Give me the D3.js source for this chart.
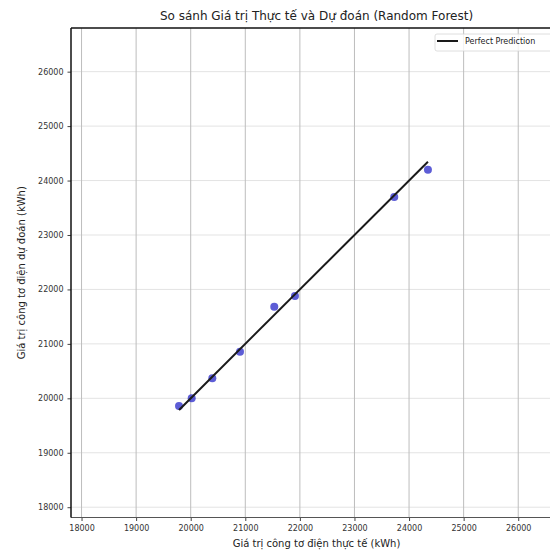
<!DOCTYPE html>
<html lang="vi">
<head>
<meta charset="utf-8">
<title>Random Forest - Thực tế vs Dự đoán</title>
<script src="https://cdn.jsdelivr.net/npm/d3@7"></script>
<style>
  body { margin: 0; background: #fff; }
  text { font-family: "DejaVu Sans", sans-serif; }
</style>
</head>
<body>
<script>
// values
var actual    = [19786, 20018, 20396, 20903, 21531, 21910, 23729, 24346];
var predicted = [19859, 20000, 20368, 20857, 21684, 21880, 23700, 24197];
var xTicks = [18000, 19000, 20000, 21000, 22000, 23000, 24000, 25000, 26000];
var yTicks = [18000, 19000, 20000, 21000, 22000, 23000, 24000, 25000, 26000];
var xDomain = [17807, 26802];
var yDomain = [17811, 26802];

var w = 550, h = 552;
// note: "top" is taken by window.top, so use mLeft / mTop
var mLeft = 71, mTop = 28, pw = 491, ph = 489.5;

var svg = d3.select("body").append("svg")
    .attr("width", w)
    .attr("height", h);

var x = d3.scaleLinear().domain(xDomain).range([mLeft, mLeft + pw]);
var y = d3.scaleLinear().domain(yDomain).range([mTop + ph, mTop]);

// grid
svg.append("g").selectAll("line")
    .data(yTicks).enter().append("line")
    .attr("x1", mLeft).attr("x2", mLeft + pw)
    .attr("y1", function(d) { return y(d); })
    .attr("y2", function(d) { return y(d); })
    .attr("stroke", "#e3e3e3").attr("stroke-width", 1);

svg.append("g").selectAll("line")
    .data(xTicks).enter().append("line")
    .attr("y1", mTop).attr("y2", mTop + ph)
    .attr("x1", function(d) { return x(d); })
    .attr("x2", function(d) { return x(d); })
    .attr("stroke", "#bdbdbd").attr("stroke-width", 1);

// axes
var xAxis = svg.append("g")
    .attr("transform", "translate(0," + (mTop + ph) + ")")
    .call(d3.axisBottom(x).tickValues(xTicks).tickFormat(d3.format("d")).tickSize(3.5).tickPadding(4));
var yAxis = svg.append("g")
    .attr("transform", "translate(" + mLeft + ",0)")
    .call(d3.axisLeft(y).tickValues(yTicks).tickFormat(d3.format("d")).tickSize(3.5).tickPadding(4));

[xAxis, yAxis].forEach(function(a) {
    a.select(".domain").remove();
    a.selectAll("text").attr("font-size", 8).attr("fill", "#333")
        .style("font-family", "'DejaVu Sans', sans-serif");
    a.selectAll(".tick line").attr("stroke", "#444");
});

// spines
svg.append("line").attr("x1", mLeft).attr("x2", mLeft + pw)
    .attr("y1", mTop + ph).attr("y2", mTop + ph)
    .attr("stroke", "#555").attr("stroke-width", 1);
svg.append("line").attr("x1", mLeft).attr("x2", mLeft + pw)
    .attr("y1", mTop).attr("y2", mTop)
    .attr("stroke", "#111").attr("stroke-width", 1.3);
svg.append("line").attr("x1", mLeft).attr("x2", mLeft)
    .attr("y1", mTop).attr("y2", mTop + ph)
    .attr("stroke", "#111").attr("stroke-width", 1.5);

// points
svg.append("g").selectAll("circle")
    .data(actual).enter().append("circle")
    .attr("cx", function(d) { return x(d); })
    .attr("cy", function(d, i) { return y(predicted[i]); })
    .attr("r", 4)
    .attr("fill", "#2727c8")
    .attr("fill-opacity", 0.75);

// perfect prediction line
var lo = d3.min(actual), hi = d3.max(actual);
svg.append("line")
    .attr("x1", x(lo)).attr("y1", y(lo))
    .attr("x2", x(hi)).attr("y2", y(hi))
    .attr("stroke", "#1a1a1a").attr("stroke-width", 2);

// legend
var lg = svg.append("g");
lg.append("rect")
    .attr("x", 435).attr("y", 34).attr("width", 122).attr("height", 17)
    .attr("rx", 2)
    .attr("fill", "#fff").attr("fill-opacity", 0.8)
    .attr("stroke", "#d6d6d6").attr("stroke-width", 0.8);
lg.append("line")
    .attr("x1", 437).attr("x2", 458).attr("y1", 41).attr("y2", 41)
    .attr("stroke", "#1a1a1a").attr("stroke-width", 2);
lg.append("text")
    .attr("x", 465).attr("y", 44)
    .attr("font-size", 8).attr("fill", "#222")
    .text("Perfect Prediction");

// title and labels
var cx = mLeft + pw / 2;
svg.append("text")
    .attr("x", cx).attr("y", 20)
    .attr("text-anchor", "middle")
    .attr("font-size", 12).attr("fill", "#222")
    .text("So sánh Giá trị Thực tế và Dự đoán (Random Forest)");

svg.append("text")
    .attr("x", cx).attr("y", 547)
    .attr("text-anchor", "middle")
    .attr("font-size", 10).attr("fill", "#222")
    .text("Giá trị công tơ điện thực tế (kWh)");

svg.append("text")
    .attr("transform", "translate(25," + (mTop + ph / 2) + ") rotate(-90)")
    .attr("text-anchor", "middle")
    .attr("font-size", 10).attr("fill", "#222")
    .text("Giá trị công tơ điện dự đoán (kWh)");
</script>
</body>
</html>
